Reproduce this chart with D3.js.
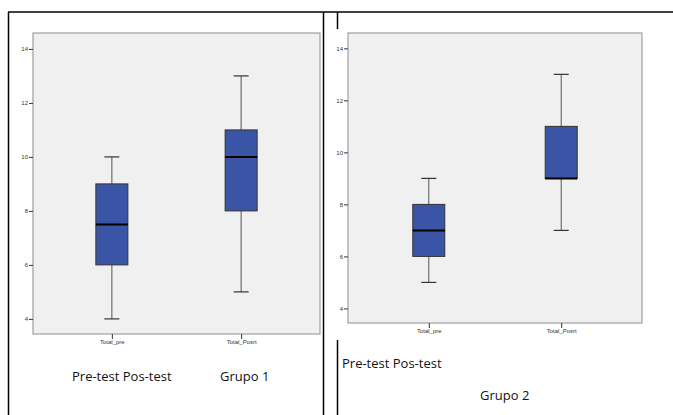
<!DOCTYPE html>
<html>
<head>
<meta charset="utf-8">
<script src="https://cdn.jsdelivr.net/npm/d3@7"></script>
<style>
  body { margin: 0; background: #fff; }
  .tick text { font-family: "Liberation Sans", Arial, sans-serif; font-size: 6px; fill: #333; }
  .caption { font-family: "Open Sans", "Noto Sans", sans-serif; font-size: 13px; fill: #111; }
</style>
</head>
<body>
<div id="chart"></div>
<script>
// categories and tick labels
const categories = ['Total_pre', 'Total_Posrt'];
const yTicks = [4, 6, 8, 10, 12, 14];

// five-number summaries: [min, q1, median, q3, max]
const grupo1 = [[4, 6, 7.5, 9, 10], [5, 8, 10, 11, 13]];
const grupo2 = [[5, 6, 7, 8, 9], [7, 9, 9, 11, 13]];

const W = 673, H = 415;
const svg = d3.select('#chart').append('svg')
    .attr('width', W).attr('height', H);

// frame lines of the document layout
const frame = svg.append('g').attr('stroke', '#000').attr('stroke-width', 1.5);
frame.append('line').attr('x1', 8).attr('x2', W).attr('y1', 12).attr('y2', 12);
frame.append('line').attr('x1', 8.5).attr('x2', 8.5).attr('y1', 12).attr('y2', H);
frame.append('line').attr('x1', 323.5).attr('x2', 323.5).attr('y1', 12).attr('y2', H);
frame.append('line').attr('x1', 337.5).attr('x2', 337.5).attr('y1', 12).attr('y2', 29);
frame.append('line').attr('x1', 337.5).attr('x2', 337.5).attr('y1', 340).attr('y2', H);

function boxplot(data, box) {
    const g = svg.append('g');
    const x = d3.scalePoint().domain(categories).range([box.x0, box.x1]).padding(0.61);
    const y = d3.scaleLinear().domain([3.44, 14.59]).range([box.y1, box.y0]);

    g.append('rect')
        .attr('x', box.x0).attr('y', box.y0)
        .attr('width', box.x1 - box.x0).attr('height', box.y1 - box.y0)
        .attr('fill', '#f0f0f0').attr('stroke', '#a0a0a0').attr('stroke-width', 1.2);

    const ya = g.append('g').attr('transform', 'translate(' + box.x0 + ',0)')
        .call(d3.axisLeft(y).tickValues(yTicks).tickSize(4).tickPadding(1));
    ya.select('.domain').remove();
    ya.selectAll('.tick line').attr('stroke', '#333');

    const xa = g.append('g').attr('transform', 'translate(0,' + box.y1 + ')')
        .call(d3.axisBottom(x).tickSize(5).tickPadding(1));
    xa.select('.domain').remove();
    xa.selectAll('.tick line').attr('stroke', '#333');

    const bw = 32, cap = 15;
    data.forEach((d, i) => {
        const cx = x(categories[i]);
        const b = g.append('g');
        b.append('line').attr('x1', cx).attr('x2', cx)
            .attr('y1', y(d[0])).attr('y2', y(d[4]))
            .attr('stroke', '#555').attr('stroke-width', 1);
        [d[0], d[4]].forEach(v => {
            b.append('line').attr('x1', cx - cap / 2).attr('x2', cx + cap / 2)
                .attr('y1', y(v)).attr('y2', y(v))
                .attr('stroke', '#333').attr('stroke-width', 1.2);
        });
        b.append('rect')
            .attr('x', cx - bw / 2).attr('y', y(d[3]))
            .attr('width', bw).attr('height', y(d[1]) - y(d[3]))
            .attr('fill', '#3a55a6').attr('stroke', '#333').attr('stroke-width', 1);
        b.append('line').attr('x1', cx - bw / 2).attr('x2', cx + bw / 2)
            .attr('y1', y(d[2])).attr('y2', y(d[2]))
            .attr('stroke', '#000').attr('stroke-width', 2);
    });
}

boxplot(grupo1, { x0: 33, x1: 320, y0: 33, y1: 334 });
boxplot(grupo2, { x0: 348, x1: 642, y0: 33, y1: 323 });

// captions
const cap = svg.append('g').attr('class', 'caption');
cap.append('text').attr('x', 72).attr('y', 381).text('Pre-test Pos-test');
cap.append('text').attr('x', 220).attr('y', 381).text('Grupo 1');
cap.append('text').attr('x', 342).attr('y', 368).text('Pre-test Pos-test');
cap.append('text').attr('x', 480).attr('y', 400).text('Grupo 2');
</script>
</body>
</html>
